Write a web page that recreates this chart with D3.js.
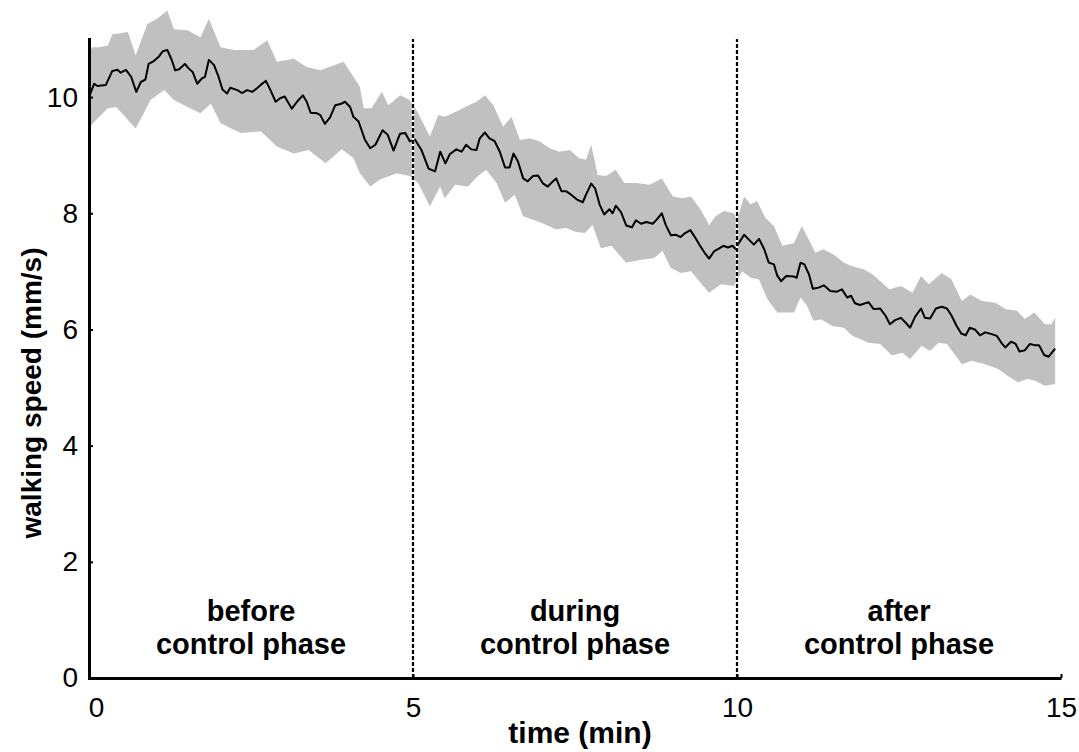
<!DOCTYPE html>
<html>
<head>
<meta charset="utf-8">
<script src="https://cdn.jsdelivr.net/npm/d3@7"></script>
<style>
  body { margin: 0; background: #fff; }
  svg text { font-family: "Liberation Sans", Arial, sans-serif; fill: #000; }
  .axis path, .axis line { stroke: #000; }
  .axis text { font-size: 28px; }
  .title { font-size: 30px; font-weight: bold; }
  .phase { font-size: 29px; font-weight: bold; }
</style>
</head>
<body>
<div id="chart"></div>
<script>
// speed trace
const meanTime = [0, 0.08, 0.13, 0.26, 0.36, 0.44, 0.49, 0.57, 0.65, 0.73, 0.8, 0.87, 0.92, 1.0, 1.08, 1.14, 1.21, 1.28, 1.33, 1.39,
  1.48, 1.54, 1.6, 1.67, 1.74, 1.79, 1.85, 1.93, 1.99, 2.06, 2.13, 2.18, 2.29, 2.36, 2.44, 2.52, 2.59, 2.65, 2.73, 2.8,
  2.88, 2.95, 3.02, 3.13, 3.21, 3.3, 3.36, 3.42, 3.52, 3.57, 3.64, 3.72, 3.8, 3.88, 3.95, 4.03, 4.08, 4.16, 4.26, 4.34,
  4.42, 4.53, 4.61, 4.7, 4.8, 4.88, 4.95, 5.03, 5.13, 5.24, 5.34, 5.42, 5.5, 5.57, 5.67, 5.75, 5.82, 5.9, 5.98, 6.03,
  6.11, 6.18, 6.26, 6.34, 6.42, 6.49, 6.55, 6.62, 6.7, 6.77, 6.85, 6.93, 7.0, 7.08, 7.16, 7.21, 7.29, 7.36, 7.44, 7.54,
  7.62, 7.67, 7.75, 7.81, 7.88, 7.95, 8.03, 8.08, 8.13, 8.21, 8.29, 8.38, 8.44, 8.52, 8.6, 8.7, 8.76, 8.84, 8.9, 8.98,
  9.06, 9.13, 9.2, 9.28, 9.35, 9.43, 9.5, 9.57, 9.65, 9.72, 9.79, 9.86, 9.93, 9.98, 10.03, 10.11, 10.18, 10.26, 10.34, 10.42,
  10.49, 10.57, 10.62, 10.68, 10.76, 10.88, 10.92, 10.98, 11.04, 11.11, 11.17, 11.26, 11.34, 11.44, 11.54, 11.62, 11.7, 11.76, 11.82, 11.9,
  12.03, 12.11, 12.21, 12.29, 12.36, 12.44, 12.53, 12.6, 12.67, 12.75, 12.84, 12.9, 12.98, 13.07, 13.16, 13.24, 13.31, 13.39, 13.46, 13.53,
  13.59, 13.67, 13.75, 13.83, 13.93, 14.01, 14.08, 14.14, 14.23, 14.3, 14.36, 14.44, 14.52, 14.59, 14.66, 14.74, 14.81, 14.85, 14.91];
const meanSpeed = [10.0, 10.23, 10.19, 10.21, 10.45, 10.47, 10.42, 10.47, 10.35, 10.09, 10.26, 10.3, 10.57, 10.62, 10.7, 10.79, 10.81, 10.63, 10.46, 10.48,
  10.57, 10.49, 10.43, 10.23, 10.32, 10.35, 10.64, 10.55, 10.38, 10.13, 10.06, 10.16, 10.12, 10.07, 10.12, 10.09, 10.15, 10.21, 10.28, 10.12,
  9.92, 9.98, 10.01, 9.8, 9.92, 10.03, 9.92, 9.73, 9.72, 9.69, 9.54, 9.65, 9.86, 9.88, 9.92, 9.83, 9.66, 9.58, 9.26, 9.12,
  9.18, 9.43, 9.35, 9.08, 9.37, 9.38, 9.24, 9.27, 9.09, 8.77, 8.72, 9.06, 8.86, 9.02, 9.1, 9.06, 9.18, 9.1, 9.09, 9.29,
  9.39, 9.29, 9.24, 9.06, 8.79, 8.79, 9.03, 8.89, 8.6, 8.55, 8.64, 8.65, 8.52, 8.46, 8.55, 8.6, 8.38, 8.38, 8.32, 8.23,
  8.19, 8.32, 8.51, 8.43, 8.15, 7.98, 8.07, 8.0, 8.13, 8.02, 7.79, 7.76, 7.88, 7.82, 7.85, 7.82, 7.89, 8.0, 7.8, 7.62,
  7.63, 7.59, 7.66, 7.71, 7.59, 7.44, 7.32, 7.22, 7.35, 7.39, 7.44, 7.41, 7.44, 7.38, 7.49, 7.63, 7.55, 7.46, 7.56, 7.38,
  7.15, 7.12, 6.93, 6.83, 6.92, 6.91, 6.89, 7.15, 7.12, 6.95, 6.7, 6.72, 6.76, 6.66, 6.65, 6.69, 6.55, 6.58, 6.45, 6.42,
  6.47, 6.35, 6.36, 6.24, 6.09, 6.16, 6.2, 6.12, 6.03, 6.22, 6.36, 6.2, 6.19, 6.36, 6.39, 6.36, 6.24, 6.06, 5.93, 5.9,
  6.03, 6.0, 5.9, 5.95, 5.92, 5.89, 5.77, 5.69, 5.79, 5.75, 5.62, 5.64, 5.75, 5.73, 5.73, 5.56, 5.53, 5.59, 5.67];

// upper edge of the grey band
const upperTime = [0, 0.06, 0.16, 0.29, 0.36, 0.44, 0.6, 0.72, 0.9, 1.05, 1.21, 1.31, 1.52, 1.72, 1.85, 2.03, 2.24, 2.54, 2.75, 2.9,
  3.16, 3.36, 3.57, 3.93, 4.18, 4.24, 4.36, 4.52, 4.62, 4.8, 4.95, 5.08, 5.26, 5.39, 5.49, 5.67, 5.82, 5.98, 6.11, 6.24,
  6.39, 6.52, 6.65, 6.8, 6.95, 7.11, 7.26, 7.42, 7.56, 7.67, 7.75, 7.85, 7.98, 8.13, 8.26, 8.44, 8.65, 8.84, 9.01, 9.16,
  9.29, 9.44, 9.57, 9.67, 9.8, 9.95, 10.0, 10.11, 10.21, 10.31, 10.44, 10.57, 10.7, 10.88, 11.0, 11.08, 11.21, 11.33, 11.49, 11.65,
  11.78, 11.96, 12.09, 12.35, 12.53, 12.71, 12.84, 12.96, 13.16, 13.31, 13.47, 13.6, 13.78, 13.99, 14.14, 14.32, 14.44, 14.59, 14.75, 14.85, 14.91];
const upperSpeed = [10.8, 10.86, 10.86, 10.89, 11.08, 11.09, 11.12, 10.72, 11.26, 11.35, 11.49, 11.17, 11.15, 11.03, 11.35, 10.86, 10.81, 10.81, 10.98, 10.61,
  10.66, 10.52, 10.46, 10.61, 10.18, 9.81, 9.81, 10.09, 9.86, 10.03, 9.95, 9.72, 9.32, 9.69, 9.66, 9.75, 9.84, 9.92, 10.03, 9.86,
  9.49, 9.66, 9.26, 9.29, 9.24, 9.12, 9.06, 9.09, 8.95, 8.92, 9.18, 8.66, 8.64, 8.75, 8.52, 8.52, 8.49, 8.6, 8.29, 8.26,
  8.29, 8.06, 7.8, 7.95, 8.04, 8.0, 7.89, 8.29, 8.15, 8.21, 7.92, 7.78, 7.44, 7.49, 7.78, 7.61, 7.32, 7.38, 7.29, 7.15,
  7.09, 7.03, 6.95, 6.69, 6.75, 6.63, 6.92, 6.78, 6.97, 6.86, 6.49, 6.6, 6.49, 6.46, 6.35, 6.32, 6.18, 6.29, 6.09, 6.09, 6.2];

// lower edge of the grey band
const lowerTime = [0, 0.06, 0.29, 0.42, 0.72, 0.95, 1.16, 1.31, 1.52, 1.72, 1.88, 2.03, 2.34, 2.65, 2.9, 3.16, 3.39, 3.65, 3.9, 4.08,
  4.18, 4.34, 4.49, 4.75, 4.95, 5.08, 5.26, 5.42, 5.49, 5.65, 5.85, 6.0, 6.13, 6.29, 6.42, 6.57, 6.7, 6.85, 7.0, 7.21,
  7.36, 7.5, 7.65, 7.77, 7.9, 8.06, 8.29, 8.52, 8.72, 8.85, 8.98, 9.13, 9.29, 9.44, 9.57, 9.75, 9.95, 10.08, 10.21, 10.34,
  10.47, 10.62, 10.88, 10.98, 11.08, 11.18, 11.3, 11.47, 11.65, 11.78, 12.03, 12.21, 12.39, 12.55, 12.67, 12.85, 12.98, 13.11, 13.24, 13.47,
  13.62, 13.83, 14.03, 14.18, 14.34, 14.49, 14.59, 14.75, 14.91];
const lowerSpeed = [9.47, 9.55, 9.81, 9.83, 9.46, 9.95, 10.12, 9.95, 9.83, 9.72, 9.89, 9.55, 9.38, 9.41, 9.15, 9.03, 9.09, 8.86, 9.1, 8.95,
  8.69, 8.46, 8.58, 8.69, 8.64, 8.52, 8.12, 8.46, 8.26, 8.49, 8.46, 8.64, 8.75, 8.52, 8.18, 8.32, 7.95, 7.89, 7.83, 7.72,
  7.75, 7.68, 7.66, 7.8, 7.4, 7.44, 7.15, 7.2, 7.23, 7.35, 7.06, 6.97, 7.0, 6.8, 6.63, 6.78, 6.75, 7.0, 6.89, 6.86,
  6.52, 6.29, 6.29, 6.55, 6.41, 6.15, 6.17, 6.06, 6.03, 5.89, 5.77, 5.75, 5.55, 5.6, 5.49, 5.72, 5.63, 5.77, 5.75, 5.4,
  5.46, 5.4, 5.32, 5.2, 5.09, 5.15, 5.12, 5.03, 5.06];

const xTicks = [0, 5, 10, 15];
const yTicks = [0, 2, 4, 6, 8, 10];
const phaseBreaks = [5, 10];
const phases = [
  { mid: 2.5, lines: ["before", "control phase"] },
  { mid: 7.5, lines: ["during", "control phase"] },
  { mid: 12.5, lines: ["after", "control phase"] }
];

const width = 1079;
const height = 752;

const svg = d3.select("#chart")
  .append("svg")
  .attr("width", width)
  .attr("height", height);

const x = d3.scaleLinear().domain([0, 15]).range([89, 1061]);
const y = d3.scaleLinear().domain([0, 11]).range([678, 39]);

const mean = meanTime.map((t, i) => [t, meanSpeed[i]]);
const upper = upperTime.map((t, i) => [t, upperSpeed[i]]);
const lower = lowerTime.map((t, i) => [t, lowerSpeed[i]]);

const line = d3.line()
  .x(d => x(d[0]))
  .y(d => y(d[1]));

// band: upper edge forward, lower edge back
svg.append("path")
  .attr("d", line(upper.concat(lower.slice().reverse())) + "Z")
  .attr("fill", "#c0c0c0")
  .attr("stroke", "none");

svg.append("path")
  .attr("d", line(mean))
  .attr("fill", "none")
  .attr("stroke", "#000")
  .attr("stroke-width", 2)
  .attr("stroke-linejoin", "round");

// phase separators
phaseBreaks.forEach(b => {
  svg.append("line")
    .attr("x1", x(b)).attr("x2", x(b))
    .attr("y1", y(0)).attr("y2", y(11))
    .attr("stroke", "#fff")
    .attr("stroke-width", 2.4);
  svg.append("line")
    .attr("x1", x(b)).attr("x2", x(b))
    .attr("y1", y(0)).attr("y2", y(11))
    .attr("stroke", "#000")
    .attr("stroke-width", 2.2)
    .attr("stroke-dasharray", "4,2");
});

// axes
const xAxis = svg.append("g")
  .attr("class", "axis")
  .attr("transform", `translate(0,${y(0)})`)
  .call(d3.axisBottom(x).tickValues(xTicks).tickFormat(d3.format("d"))
    .tickSizeInner(-4).tickSizeOuter(0).tickPadding(19));
xAxis.select(".domain").attr("stroke-width", 3);
xAxis.selectAll(".tick line").attr("stroke-width", 2);
xAxis.selectAll(".tick text")
  .attr("dx", d => d === 0 ? 7 : 0);

const yAxis = svg.append("g")
  .attr("class", "axis")
  .attr("transform", `translate(${x(0)},0)`)
  .call(d3.axisLeft(y).tickValues(yTicks).tickFormat(d3.format("d"))
    .tickSizeInner(-4).tickSizeOuter(0).tickPadding(11));
yAxis.select(".domain").attr("stroke-width", 3).attr("stroke-linecap", "square");
yAxis.selectAll(".tick line").attr("stroke-width", 2);

// axis titles
svg.append("text")
  .attr("class", "title")
  .attr("x", (x(0) + x(15)) / 2 + 5)
  .attr("y", 743)
  .attr("text-anchor", "middle")
  .text("time (min)");

svg.append("text")
  .attr("class", "title")
  .style("font-size", "28px")
  .attr("transform", "translate(41,393) rotate(-90)")
  .attr("text-anchor", "middle")
  .text("walking speed (mm/s)");

// phase names
phases.forEach(p => {
  const t = svg.append("text")
    .attr("class", "phase")
    .attr("text-anchor", "middle");
  p.lines.forEach((s, i) => {
    t.append("tspan")
      .attr("x", x(p.mid))
      .attr("y", 621 + i * 33)
      .text(s);
  });
});
</script>
</body>
</html>
